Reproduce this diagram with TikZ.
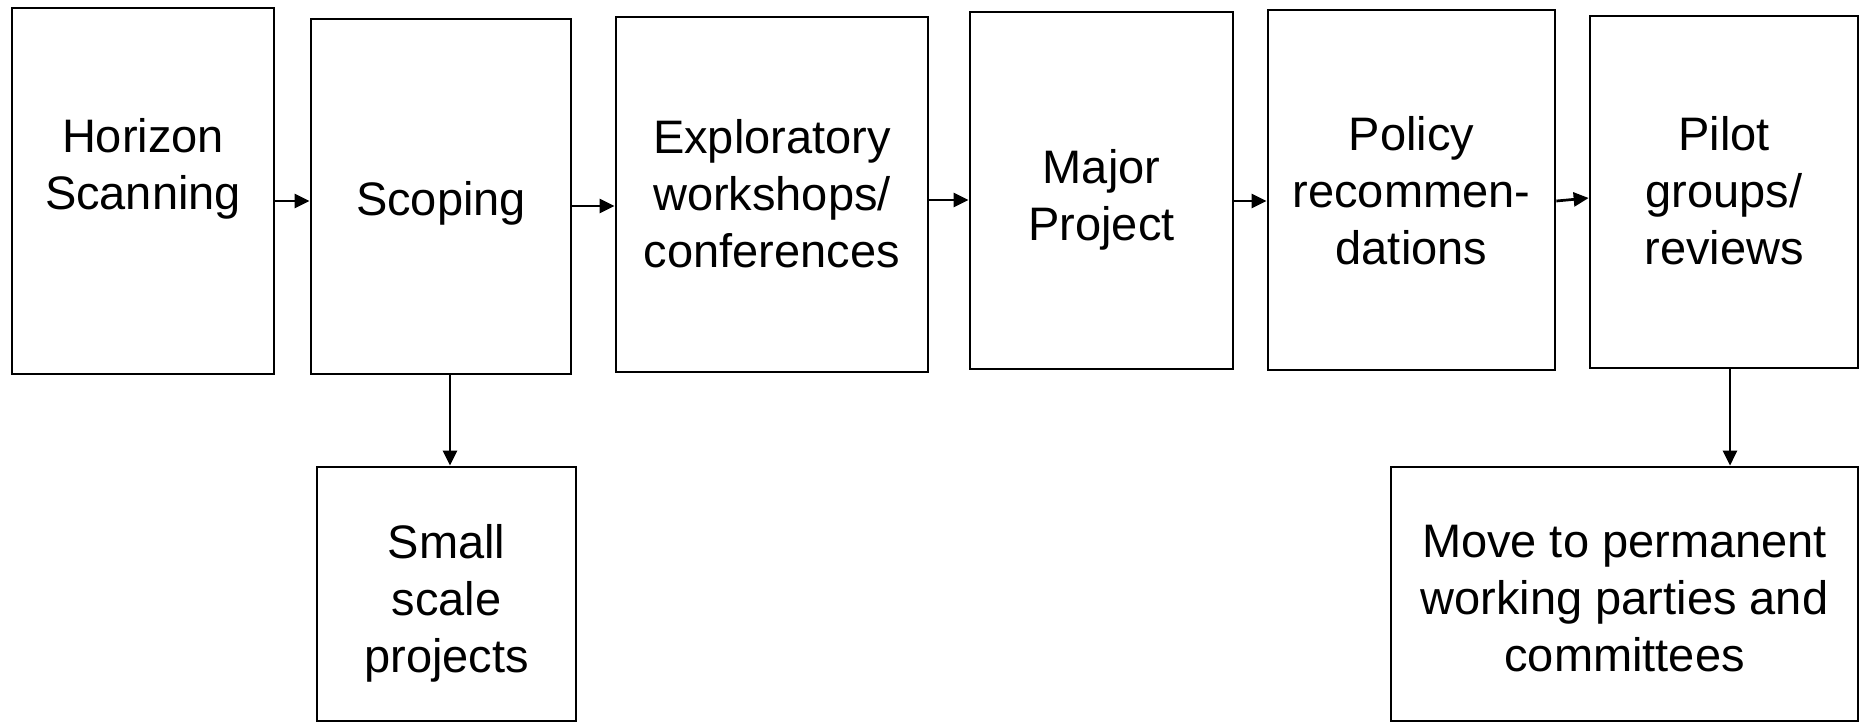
\documentclass[tikz,border=0pt]{standalone}
\usepackage{fontspec}
\setmainfont{Liberation Sans}
\usetikzlibrary{arrows.meta}
\begin{document}
\begin{tikzpicture}[x=0.5pt,y=-0.5pt,
  blk/.style={draw=black,line width=1.35pt,inner sep=0pt},
  txt/.style={inner sep=0pt,align=center,font=\fontsize{23.5pt}{28.5pt}\selectfont},
  arr/.style={line width=1.35pt,-{Triangle[length=7.5pt,width=7pt]}}]
\useasboundingbox (0,0) rectangle (1860,723);
% boxes
\node[blk,minimum width=131pt,minimum height=183pt] (hs) at (143,191) {};
\node[blk,minimum width=130pt,minimum height=177.5pt] (sc) at (441,196.5) {};
\node[blk,minimum width=156pt,minimum height=177.5pt] (ex) at (772,194.5) {};
\node[blk,minimum width=131.5pt,minimum height=178.5pt] (mj) at (1101.5,190.5) {};
\node[blk,minimum width=143.5pt,minimum height=180pt] (po) at (1411.5,190) {};
\node[blk,minimum width=134pt,minimum height=176pt] (pi) at (1724,192) {};
\node[blk,minimum width=129.5pt,minimum height=127pt] (sm) at (446.5,594) {};
\node[blk,minimum width=233.5pt,minimum height=127pt] (mv) at (1624.5,594) {};
% texts
\node[txt] (hst) at (143,169) {Horizon\\Scanning};
\node[txt] (sct) at (441,203) {Scoping};
\node[txt] (ext) at (772,194) {Exploratory\\workshops/\\conferences};
\node[txt] (mjt) at (1101.5,200) {Major\\Project};
\node[txt] (pot) at (1411.5,191) {Policy\\recommen-\\dations};
\node[txt] (pit) at (1724,191) {Pilot\\groups/\\reviews};
\node[txt] (smt) at (446.5,603) {Small\\scale\\projects};
\node[txt] (mvt) at (1624.5,599) {Move to permanent\\working parties and\\committees};
% connectors
\draw[arr] (hs.east |- 0,201) -- (sc.west |- 0,201);
\draw[arr] (sc.east |- 0,206) -- (ex.west |- 0,206);
\draw[arr] (ex.east |- 0,200) -- (mj.west |- 0,200);
\draw[arr] (mj.east |- 0,201) -- (po.west |- 0,201);
\draw[arr] (po.east |- 0,201) -- (pi.west |- 0,198);
\draw[arr] (sc.south -| 450,0) -- (sm.north -| 450,0);
\draw[arr] (pi.south -| 1730,0) -- (mv.north -| 1730,0);
\end{tikzpicture}
\end{document}
